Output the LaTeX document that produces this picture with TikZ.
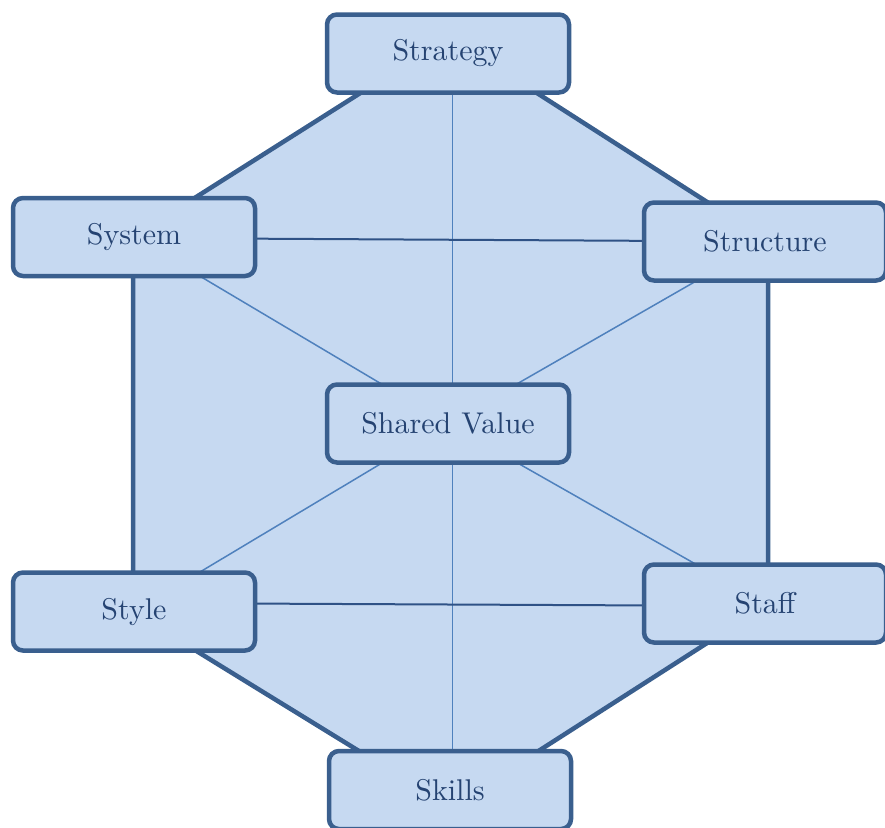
\documentclass[tikz,border=0pt]{standalone}
\usepackage{fontspec}
\newfontfamily\boxfont{lmroman10-regular.otf}
\usetikzlibrary{calc}
\definecolor{boxfill}{HTML}{C6D9F1}
\definecolor{boxline}{HTML}{3A5F8E}
\definecolor{txt}{HTML}{254372}
\definecolor{thinline}{HTML}{4F81BD}
\definecolor{darkline}{HTML}{2F5286}
\begin{document}
\begin{tikzpicture}[x=1pt,y=-1pt,
  box/.style={draw=boxline, fill=boxfill, line width=4.5pt, rounded corners=10pt,
    minimum width=242pt, minimum height=78pt, inner sep=0pt, text=txt,
    font=\boxfont\fontsize{30}{35}\selectfont},
  thin/.style={draw=thinline, line width=1.5pt},
  mid/.style={draw=darkline, line width=2pt}]
\useasboundingbox (0,0) rectangle (885,827);
% octagon
\coordinate (o1) at (133,237);
\coordinate (o2) at (422,54);
\coordinate (o3) at (476,54);
\coordinate (o4) at (768,241);
\coordinate (o5) at (768,604);
\coordinate (o6) at (476,791);
\coordinate (o7) at (424,791);
\coordinate (o8) at (133,612);
\draw[boxline, fill=boxfill, line width=4.5pt, line join=miter]
  (o1) -- (o2) -- (o3) -- (o4) -- (o5) -- (o6) -- (o7) -- (o8) -- cycle;
% node positions
\coordinate (pStrategy) at (448,53.5);
\coordinate (pSystem) at (134,237);
\coordinate (pStructure) at (765,241.5);
\coordinate (pShared) at (448,423.5);
\coordinate (pStyle) at (134,611.5);
\coordinate (pStaff) at (765,603.5);
\coordinate (pSkills) at (450,790);
% connectors (behind boxes)
\draw[thin] ([xshift=4.5pt]pStrategy) -- ([xshift=2.5pt]pSkills);
\draw[thin] (pSystem) -- (pShared);
\draw[thin] (pStructure) -- (pShared);
\draw[thin] (pStyle) -- (pShared);
\draw[thin] (pStaff) -- (pShared);
\draw[mid] ([yshift=-1pt]pSystem) -- (pStructure);
\draw[mid] ([yshift=8.5pt]pStyle) -- ([yshift=-2.5pt]pStaff);
% boxes
\node[box] (Strategy) at (pStrategy) {Strategy};
\node[box] (System) at (pSystem) {System};
\node[box] (Structure) at (pStructure) {Structure};
\node[box] (Shared) at (pShared) {Shared Value};
\node[box] (Style) at (pStyle) {Style};
\node[box] (Staff) at (pStaff) {Staff};
\node[box] (Skills) at (pSkills) {Skills};
\end{tikzpicture}
\end{document}
